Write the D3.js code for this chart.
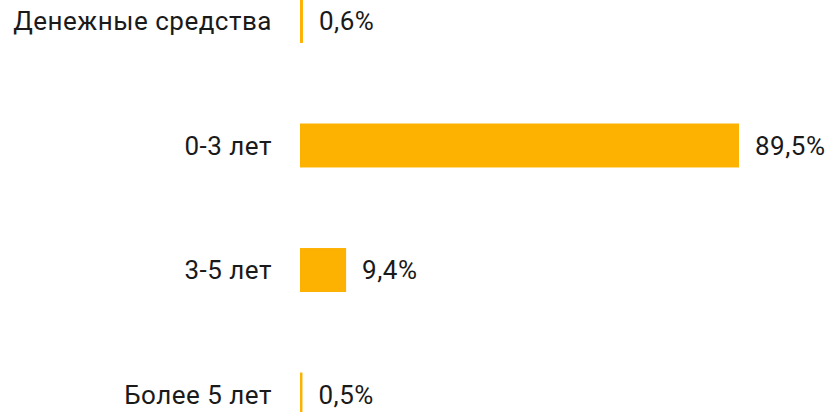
<!DOCTYPE html>
<html><head><meta charset="utf-8">
<script src="https://cdn.jsdelivr.net/npm/d3@7"></script>
<style>body{margin:0;background:#fff}svg{display:block}</style>
</head><body>
<script>
const categories = ["Денежные средства", "0-3 лет", "3-5 лет", "Более 5 лет"];
const values = [0.6, 89.5, 9.4, 0.5];
const valueLabels = ["0,6%", "89,5%", "9,4%", "0,5%"];

const W = 833, H = 412;
const svg = d3.select("body").append("svg").attr("width", W).attr("height", H);
const x0 = 300;
const x = d3.scaleLinear().domain([0, 89.5]).range([x0, 739]);
const y = d3.scaleBand().domain(categories).range([-1, 416.5]).paddingInner(0.647).paddingOuter(0);

const g = svg.append("g");
g.selectAll("rect").data(values).join("rect")
  .attr("x", x(0))
  .attr("y", (d, i) => y(categories[i]))
  .attr("width", d => x(d) - x(0))
  .attr("height", y.bandwidth())
  .attr("fill", "#FDB100");

g.selectAll("text.cat").data(categories).join("text")
  .attr("class", "cat")
  .attr("x", x0 - 28)
  .attr("y", d => y(d) + y.bandwidth() / 2)
  .attr("dy", "0.35em")
  .attr("text-anchor", "end")
  .attr("font-family", "Roboto, sans-serif")
  .attr("font-size", 26)
  .attr("letter-spacing", 0.5)
  .attr("fill", "#1a1a1a")
  .text(d => d);

g.selectAll("text.val").data(values).join("text")
  .attr("class", "val")
  .attr("x", d => x(d) + 16)
  .attr("y", (d, i) => y(categories[i]) + y.bandwidth() / 2)
  .attr("dy", "0.35em")
  .attr("font-family", "Roboto, sans-serif")
  .attr("font-size", 26)
  .attr("letter-spacing", 0.5)
  .attr("fill", "#1a1a1a")
  .text((d, i) => valueLabels[i]);
</script>
</body></html>
